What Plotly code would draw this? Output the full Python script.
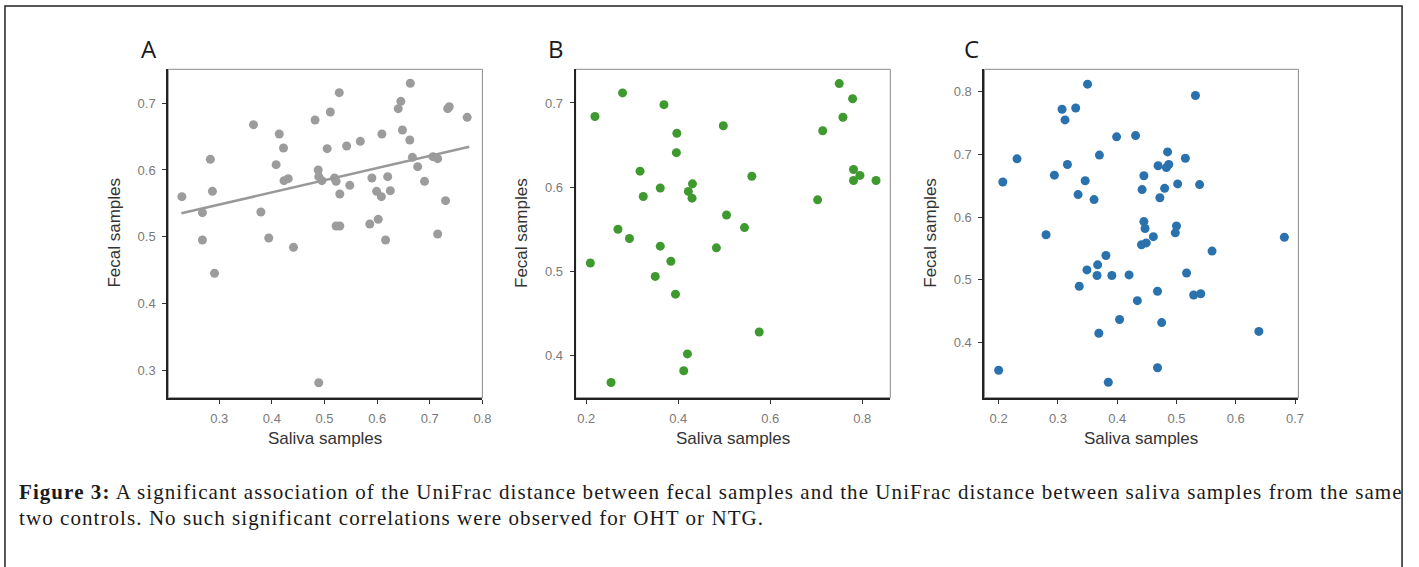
import numpy as np
import plotly.graph_objects as go

W, H = 1419, 567

# ---------------- data ----------------
a_x = [0.229, 0.268, 0.268, 0.283, 0.287, 0.291, 0.365, 0.379, 0.394, 0.408, 0.414, 0.422, 0.423, 0.431,
       0.441, 0.482, 0.488, 0.489, 0.495, 0.489, 0.505, 0.511, 0.528, 0.519, 0.522, 0.529, 0.522, 0.529,
       0.542, 0.548, 0.568, 0.586, 0.590, 0.599, 0.602, 0.608, 0.609, 0.616, 0.620, 0.625, 0.640, 0.645,
       0.648, 0.662, 0.663, 0.667, 0.677, 0.690, 0.706, 0.715, 0.715, 0.730, 0.734, 0.737, 0.771]
a_y = [0.560, 0.536, 0.495, 0.616, 0.568, 0.445, 0.668, 0.537, 0.498, 0.608, 0.654, 0.633, 0.584, 0.587,
       0.484, 0.675, 0.600, 0.590, 0.584, 0.281, 0.632, 0.687, 0.716, 0.588, 0.583, 0.564, 0.516, 0.516,
       0.636, 0.577, 0.643, 0.519, 0.588, 0.568, 0.526, 0.560, 0.654, 0.495, 0.590, 0.569, 0.692, 0.703,
       0.660, 0.645, 0.730, 0.619, 0.605, 0.583, 0.620, 0.617, 0.504, 0.554, 0.692, 0.695, 0.679]
a_fit_x = [0.228, 0.775]
a_fit_y = [0.535, 0.635]

b_x = [0.209, 0.219, 0.254, 0.269, 0.279, 0.294, 0.317, 0.324, 0.361, 0.361, 0.350, 0.369, 0.384, 0.394,
       0.396, 0.397, 0.412, 0.420, 0.422, 0.431, 0.430, 0.483, 0.498, 0.505, 0.544, 0.560, 0.576, 0.703,
       0.714, 0.750, 0.758, 0.779, 0.781, 0.781, 0.795, 0.830]
b_y = [0.510, 0.684, 0.368, 0.550, 0.712, 0.539, 0.619, 0.589, 0.599, 0.530, 0.494, 0.698, 0.512, 0.473,
       0.641, 0.664, 0.382, 0.402, 0.595, 0.604, 0.587, 0.528, 0.673, 0.567, 0.552, 0.613, 0.428, 0.585,
       0.667, 0.723, 0.683, 0.705, 0.621, 0.608, 0.614, 0.608]

c_x = [0.200, 0.207, 0.231, 0.280, 0.294, 0.307, 0.312, 0.316, 0.330, 0.334, 0.336, 0.346, 0.349, 0.350,
       0.361, 0.366, 0.367, 0.369, 0.370, 0.381, 0.385, 0.391, 0.399, 0.404, 0.420, 0.431, 0.434, 0.441,
       0.442, 0.445, 0.445, 0.447, 0.449, 0.461, 0.468, 0.468, 0.469, 0.472, 0.475, 0.480, 0.483, 0.485,
       0.487, 0.498, 0.500, 0.502, 0.515, 0.517, 0.529, 0.532, 0.539, 0.541, 0.560, 0.639, 0.682]
c_y = [0.356, 0.656, 0.693, 0.572, 0.667, 0.772, 0.755, 0.684, 0.774, 0.636, 0.490, 0.658, 0.516, 0.812,
       0.628, 0.507, 0.524, 0.415, 0.699, 0.539, 0.337, 0.507, 0.728, 0.437, 0.508, 0.730, 0.467, 0.556,
       0.644, 0.666, 0.593, 0.582, 0.559, 0.569, 0.360, 0.482, 0.682, 0.631, 0.432, 0.646, 0.679, 0.704,
       0.684, 0.575, 0.586, 0.653, 0.694, 0.511, 0.476, 0.794, 0.652, 0.478, 0.546, 0.418, 0.568]

x_ticks = {"A": [0.3, 0.4, 0.5, 0.6, 0.7, 0.8], "B": [0.2, 0.4, 0.6, 0.8], "C": [0.2, 0.3, 0.4, 0.5, 0.6, 0.7]}
y_ticks = {"A": [0.3, 0.4, 0.5, 0.6, 0.7], "B": [0.4, 0.5, 0.6, 0.7], "C": [0.4, 0.5, 0.6, 0.7, 0.8]}

caption_bold = "Figure 3:"
caption_line1 = " A significant association of the UniFrac distance between fecal samples and the UniFrac distance between saliva samples from the same"
caption_line2 = "two controls. No such significant correlations were observed for OHT or NTG."

# ---------------- layout geometry (pixels) ----------------
panels = {
    "A": dict(left=169.3, right=485.5, xr=[0.203, 0.8], yr=[0.2585, 0.751], color="#9c9c9c", x=a_x, y=a_y, letter_x=150),
    "B": dict(left=579.3, right=896.0, xr=[0.177, 0.861], yr=[0.350, 0.740], color="#3e9a2e", x=b_x, y=b_y, letter_x=560),
    "C": dict(left=990.7, right=1306.7, xr=[0.176, 0.7057], yr=[0.3123, 0.8357], color="#2a72ad", x=c_x, y=c_y, letter_x=978),
}
top_px, bot_px = 69.3, 397.7
ydom = [1 - bot_px / H, 1 - top_px / H]

fig = go.Figure()
annotations = []
shapes = []
axis_font = dict(family="Liberation Sans, Arial, sans-serif", size=17, color="#333333")
tick_font = dict(family="Liberation Sans, Arial, sans-serif", size=13, color="#7a7a7a")

for i, (key, p) in enumerate(panels.items()):
    n = "" if i == 0 else str(i + 1)
    xa, ya = "x" + n, "y" + n
    fig.add_trace(go.Scatter(x=p["x"], y=p["y"], mode="markers", xaxis=xa, yaxis=ya,
                             marker=dict(size=9, color=p["color"], line=dict(width=0)),
                             showlegend=False, hoverinfo="x+y"))
    if key == "A":
        fig.add_trace(go.Scatter(x=a_fit_x, y=a_fit_y, mode="lines", xaxis=xa, yaxis=ya,
                                 line=dict(color="#999999", width=2.6), showlegend=False))
    common = dict(showgrid=False, zeroline=False, showline=True, linecolor="#222222", linewidth=2,
                  ticks="outside", ticklen=4, tickwidth=1.2, tickcolor="#333333", tickfont=tick_font,
                  mirror=False)
    fig.update_layout(**{
        "xaxis" + n: dict(domain=[p["left"] / W, p["right"] / W], range=p["xr"], anchor=ya,
                          tickvals=x_ticks[key], ticktext=[f"{v:g}" for v in x_ticks[key]],
                          ticklabelstandoff=4, **common),
        "yaxis" + n: dict(domain=ydom, range=p["yr"], anchor=xa,
                          tickvals=y_ticks[key], ticktext=[f"{v:g}" for v in y_ticks[key]],
                          ticklabelstandoff=4, **common),
    })
    # thin gray full frame
    shapes.append(dict(type="rect", xref=xa + " domain", yref=ya + " domain", x0=0, x1=1, y0=0, y1=1,
                       line=dict(color="#8a8a8a", width=1), layer="below"))
    cx = (p["left"] + p["right"]) / 2
    annotations.append(dict(text="Saliva samples", x=cx / W, y=1 - 438 / H, xref="paper", yref="paper",
                            xanchor="center", yanchor="middle", showarrow=False, font=axis_font))
    annotations.append(dict(text="Fecal samples", x=(p["left"] - 54) / W, y=1 - 233 / H, xref="paper",
                            yref="paper", xanchor="center", yanchor="middle", textangle=-90,
                            showarrow=False, font=axis_font))
    annotations.append(dict(text=key, x=p["letter_x"] / W, y=1 - 49 / H, xref="paper", yref="paper",
                            xanchor="center", yanchor="middle", showarrow=False,
                            font=dict(family="Open Sans, Liberation Sans, sans-serif", size=24, color="#1a1a1a")))

cap_font = dict(family="Liberation Serif, Times New Roman, serif", size=21, color="#1a1a1a")
sp = '<span style="letter-spacing:1.07px">'
annotations.append(dict(text=f"{sp}<b>{caption_bold}</b>{caption_line1}</span>", x=17 / W, y=1 - 492 / H,
                        xref="paper", yref="paper", xanchor="left", yanchor="middle", showarrow=False,
                        font=cap_font))
annotations.append(dict(text=f"{sp}{caption_line2}</span>", x=17 / W, y=1 - 518 / H, xref="paper",
                        yref="paper", xanchor="left", yanchor="middle", showarrow=False, font=cap_font))

# outer figure frame
shapes.append(dict(type="rect", xref="paper", yref="paper", x0=5 / W, x1=1411 / W, y0=-0.05, y1=1 - 6 / H,
                   line=dict(color="#222222", width=1.5)))

fig.update_layout(width=W, height=H, margin=dict(l=0, r=0, t=0, b=0), paper_bgcolor="white",
                  plot_bgcolor="white", annotations=annotations, shapes=shapes)

fig.write_html("out.html")
